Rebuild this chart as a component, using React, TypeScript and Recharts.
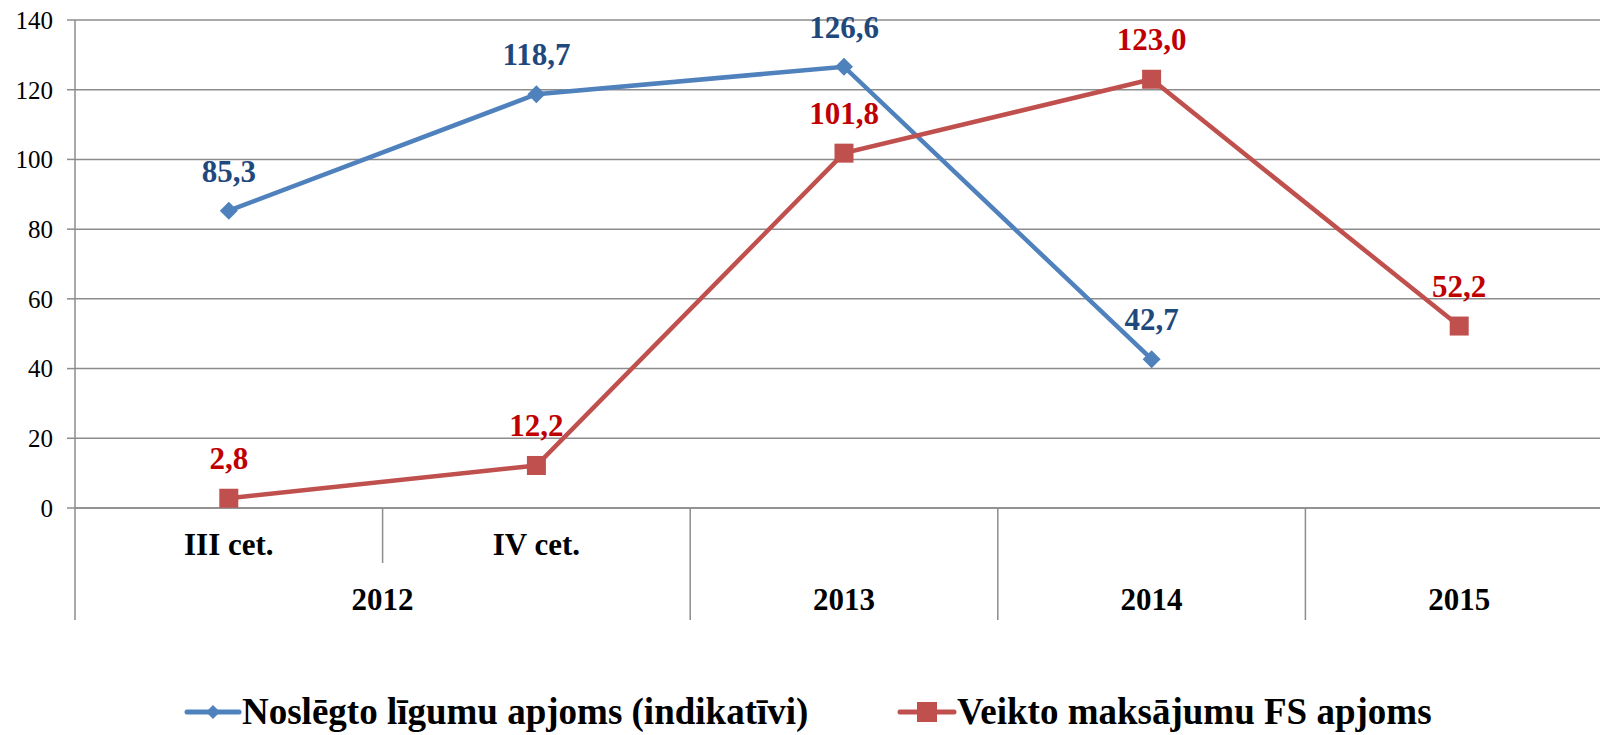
import { LineChart, Line, XAxis, YAxis, CartesianGrid } from 'recharts';

const periods = ['2012 III', '2012 IV', '2013', '2014', '2015'];
const quarterLabels = ['III cet.', 'IV cet.', '', '', ''];
const yearLabels = ['2012', '2012', '2013', '2014', '2015'];
const contracts = [85.3, 118.7, 126.6, 42.7, null];
const payments = [2.8, 12.2, 101.8, 123.0, 52.2];
const yTicks = [0, 20, 40, 60, 80, 100, 120, 140];

const seriesNames = ['Noslēgto līgumu apjoms (indikatīvi)', 'Veikto maksājumu FS apjoms'];

const data = periods.map((p, i) => ({
  period: p,
  contracts: contracts[i],
  payments: payments[i],
}));

const FONT = '"Liberation Serif", "Times New Roman", serif';
const GRID = '#8c8c8c';
const BLUE = '#4F81BD';
const RED = '#C0504D';
const BLUE_TEXT = '#1F497D';
const RED_TEXT = '#C00000';

const CHART_W = 1613;
const CHART_H = 735;
const Y_AXIS_W = 75;
const X_AXIS_H = 112;
const MARGIN = { top: 20, right: 0, left: 0, bottom: 115 };
const BAND_W = (CHART_W - Y_AXIS_W - MARGIN.right - MARGIN.left) / periods.length;

const fmt = (v: number) => v.toFixed(1).replace('.', ',');

const XTick = (props: any) => {
  const { x, y, payload } = props;
  const i = payload.index;
  const left = x - BAND_W / 2;
  const newYear = i === 0 || yearLabels[i] !== yearLabels[i - 1];
  let span = 1;
  while (i + span < yearLabels.length && yearLabels[i + span] === yearLabels[i]) span++;
  return (
    <g>
      <line x1={left} x2={left} y1={y} y2={y + (newYear ? X_AXIS_H : 55)} stroke={GRID} strokeWidth={1.5} />
      {quarterLabels[i] && (
        <text x={x} y={y + 47} textAnchor="middle" fontFamily={FONT} fontWeight="bold" fontSize={31} fill="#000">
          {quarterLabels[i]}
        </text>
      )}
      {newYear && (
        <text x={left + (span * BAND_W) / 2} y={y + 102} textAnchor="middle" fontFamily={FONT} fontWeight="bold" fontSize={31} fill="#000">
          {yearLabels[i]}
        </text>
      )}
    </g>
  );
};

const makeLabel = (color: string) => (props: any) => {
  const { x, y, value, index } = props;
  if (value == null) return <g key={index} />;
  return (
    <text key={index} x={x} y={y - 29} textAnchor="middle" fontFamily={FONT} fontWeight="bold" fontSize={31} fill={color}>
      {fmt(value)}
    </text>
  );
};

const Diamond = (props: any) => {
  const { cx, cy, index } = props;
  if (cx == null || cy == null) return <g key={index} />;
  const r = 9;
  return <path key={index} d={`M${cx},${cy - r}L${cx + r},${cy}L${cx},${cy + r}L${cx - r},${cy}Z`} fill={BLUE} />;
};

const Square = (props: any) => {
  const { cx, cy, index } = props;
  if (cx == null || cy == null) return <g key={index} />;
  const s = 19;
  return <rect key={index} x={cx - s / 2} y={cy - s / 2} width={s} height={s} fill={RED} />;
};

const legendText = { fontFamily: FONT, fontWeight: 'bold' as const, fontSize: 37, lineHeight: '44px', color: '#000', whiteSpace: 'nowrap' as const };

const LegendBox = () => (
  <>
    <div style={{ position: 'absolute', left: 184, top: 690, display: 'flex', alignItems: 'center', ...legendText }}>
      <svg width={58} height={30}>
        <line x1={3} x2={55} y1={15} y2={15} stroke={BLUE} strokeWidth={5} strokeLinecap="round" />
        <path d="M29,8L36,15L29,22L22,15Z" fill={BLUE} />
      </svg>
      <span>{seriesNames[0]}</span>
    </div>
    <div style={{ position: 'absolute', left: 897, top: 690, display: 'flex', alignItems: 'center', ...legendText }}>
      <svg width={60} height={30}>
        <line x1={3} x2={57} y1={15} y2={15} stroke={RED} strokeWidth={5} strokeLinecap="round" />
        <rect x={20} y={5} width={20} height={20} fill={RED} />
      </svg>
      <span>{seriesNames[1]}</span>
    </div>
  </>
);

export default function App() {
  return (
    <div style={{ position: 'fixed', left: 0, top: 0, width: 1600, height: 735, overflow: 'hidden', background: '#fff' }}>
      <LineChart width={CHART_W} height={CHART_H} data={data} margin={MARGIN}>
        <CartesianGrid vertical={false} stroke={GRID} strokeWidth={1.5} />
        <XAxis
          dataKey="period"
          scale="band"
          interval={0}
          height={X_AXIS_H}
          tickSize={0}
          tickMargin={0}
          tickLine={false}
          axisLine={{ stroke: GRID, strokeWidth: 1.5 }}
          tick={<XTick />}
        />
        <YAxis
          width={Y_AXIS_W}
          domain={[0, 140]}
          ticks={yTicks}
          interval={0}
          tickSize={8}
          tickMargin={14}
          axisLine={{ stroke: GRID, strokeWidth: 1.5 }}
          tickLine={{ stroke: GRID, strokeWidth: 1.5 }}
          tick={{ fill: '#000', fontSize: 25, fontFamily: FONT }}
        />
        <Line
          dataKey="contracts"
          name={seriesNames[0]}
          stroke={BLUE}
          strokeWidth={4.5}
          dot={Diamond}
          activeDot={false}
          label={makeLabel(BLUE_TEXT)}
          isAnimationActive={false}
        />
        <Line
          dataKey="payments"
          name={seriesNames[1]}
          stroke={RED}
          strokeWidth={4.5}
          dot={Square}
          activeDot={false}
          label={makeLabel(RED_TEXT)}
          isAnimationActive={false}
        />
      </LineChart>
      <LegendBox />
    </div>
  );
}
